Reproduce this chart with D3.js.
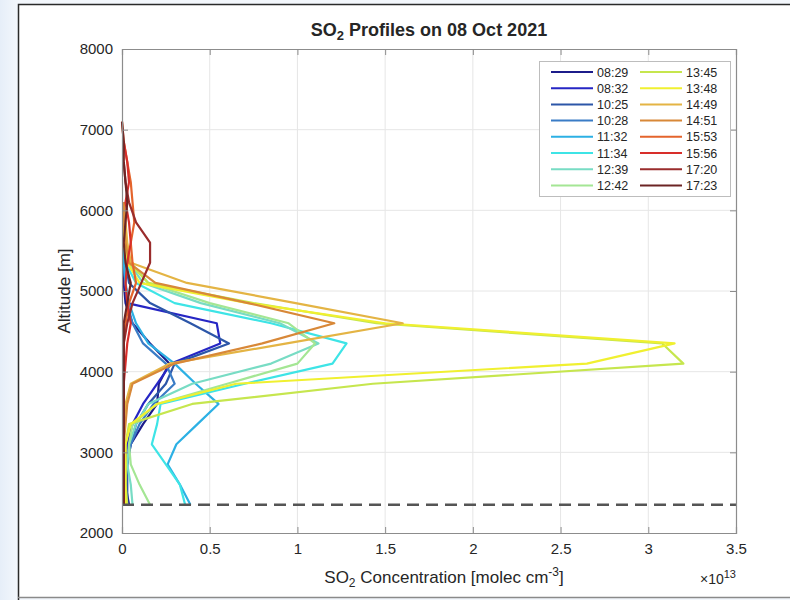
<!DOCTYPE html>
<html>
<head>
<meta charset="utf-8">
<script src="https://cdn.jsdelivr.net/npm/d3@7"></script>
<style>
  html, body { margin: 0; padding: 0; }
  body { width: 790px; height: 600px; overflow: hidden;
         background: linear-gradient(90deg, #e6eef8 0px, #f3f7fc 18px); }
  svg { display: block; }
  text { font-family: "Liberation Sans", Arial, Helvetica, sans-serif; fill: #262626; }
</style>
</head>
<body>
<svg id="chart" width="790" height="600"></svg>
<script>
// Altitude levels of the retrieved profiles [m]
const altitudes = [2350, 2600, 2850, 3100, 3350, 3600, 3850, 4100, 4350, 4600,
                   4850, 5100, 5350, 5600, 5850, 6100, 6350, 6600, 6850, 7100];

// Measurement times (legend entries)
const times = ["08:29", "08:32", "10:25", "10:28", "11:32", "11:34", "12:39", "12:42",
               "13:45", "13:48", "14:49", "14:51", "15:53", "15:56", "17:20", "17:23"];

const colors = ["#1c1c8a", "#2626c4", "#2c56a8", "#3a7cc6", "#2cb0e4", "#3ee4e6", "#78dcc4", "#a4e694",
                "#c6e64e", "#f0f030", "#e4b444", "#d88838", "#e4642c", "#d82e2a", "#9a2c2c", "#6c2424"];

// SO2 concentration per level, in units of 1e13 molec cm^-3 (null = no retrieval)
const so2_0829 = [0.04, 0.02, 0.02, 0.05, 0.12, 0.20, 0.21, 0.27, 0.16, 0.06, 0.02, 0.01, 0.01, 0.01, 0.01, 0.01, null, null, null, null];
const so2_0832 = [0.03, 0.02, 0.02, 0.03, 0.06, 0.12, 0.20, 0.28, 0.56, 0.54, 0.03, 0.02, 0.01, 0.01, 0.01, null, null, null, null, null];
const so2_1025 = [0.03, 0.03, 0.03, 0.05, 0.08, 0.15, 0.25, 0.30, 0.61, 0.39, 0.16, 0.04, 0.02, 0.01, 0.01, null, null, null, null, null];
const so2_1028 = [0.02, 0.02, 0.03, 0.05, 0.10, 0.18, 0.30, 0.25, 0.12, 0.06, 0.03, 0.02, 0.01, 0.01, null, null, null, null, null, null];
const so2_1132 = [0.39, 0.33, 0.26, 0.31, 0.43, 0.55, 0.42, 0.30, 0.15, 0.08, 0.04, 0.02, 0.01, 0.01, null, null, null, null, null, null];
const so2_1134 = [0.36, 0.33, 0.25, 0.17, 0.20, 0.22, 0.70, 1.20, 1.28, 0.85, 0.30, 0.08, 0.02, 0.01, null, null, null, null, null, null];
const so2_1239 = [0.06, 0.05, 0.03, 0.04, 0.08, 0.15, 0.40, 0.85, 1.12, 0.90, 0.45, 0.12, 0.04, 0.02, 0.01, null, null, null, null, null];
const so2_1242 = [0.16, 0.10, 0.05, 0.04, 0.06, 0.20, 0.60, 1.00, 1.10, 0.95, 0.50, 0.15, 0.05, 0.02, 0.01, null, null, null, null, null];
const so2_1345 = [0.03, 0.02, 0.02, 0.02, 0.04, 0.40, 1.43, 3.20, 3.08, 1.45, 0.75, 0.15, 0.04, 0.02, 0.01, null, null, null, null, null];
const so2_1348 = [0.02, 0.02, 0.02, 0.02, 0.05, 0.20, 0.65, 2.65, 3.15, 1.50, 0.72, 0.10, 0.03, 0.01, 0.01, null, null, null, null, null];
const so2_1449 = [0.01, 0.01, 0.01, 0.01, 0.01, 0.02, 0.05, 0.27, 0.94, 1.60, 0.99, 0.37, 0.05, 0.03, 0.02, 0.01, null, null, null, null];
const so2_1451 = [0.01, 0.01, 0.01, 0.01, 0.02, 0.03, 0.06, 0.30, 0.80, 1.21, 0.72, 0.19, 0.04, 0.02, 0.01, 0.01, null, null, null, null];
const so2_1553 = [0.01, 0.01, 0.01, 0.01, 0.01, 0.01, 0.01, 0.01, 0.01, 0.02, 0.04, 0.08, 0.06, 0.05, 0.07, 0.06, 0.05, 0.03, 0.01, 0.00];
const so2_1556 = [0.01, 0.01, 0.01, 0.01, 0.01, 0.01, 0.01, 0.02, 0.03, 0.05, 0.03, 0.02, 0.03, 0.05, 0.04, 0.02, 0.04, 0.03, 0.01, null];
const so2_1720 = [0.01, 0.01, 0.01, 0.01, 0.01, 0.01, 0.01, 0.01, 0.01, 0.03, 0.06, 0.11, 0.16, 0.16, 0.08, 0.04, 0.02, 0.01, null, null];
const so2_1723 = [0.01, 0.01, 0.01, 0.01, 0.01, 0.01, 0.01, 0.01, 0.01, 0.01, 0.03, 0.05, 0.02, 0.01, 0.02, 0.03, 0.02, 0.01, 0.01, 0.00];

const profiles = [so2_0829, so2_0832, so2_1025, so2_1028, so2_1132, so2_1134, so2_1239, so2_1242,
                  so2_1345, so2_1348, so2_1449, so2_1451, so2_1553, so2_1556, so2_1720, so2_1723];

// Axis ticks
const xTicks = [0, 0.5, 1, 1.5, 2, 2.5, 3, 3.5];
const yTicks = [2000, 3000, 4000, 5000, 6000, 7000, 8000];
const groundAltitude = 2350;

const svg = d3.select("#chart");

// Figure frame
svg.append("rect").attr("x", 18).attr("y", 4).attr("width", 790).attr("height", 593)
  .attr("fill", "#ffffff");
svg.append("path").attr("d", "M18.5,600 V4.5 H790").attr("fill", "none")
  .attr("stroke", "#2a2a2a").attr("stroke-width", 1.5);
svg.append("line").attr("x1", 18).attr("x2", 790).attr("y1", 597.5).attr("y2", 597.5)
  .attr("stroke", "#8a8a8a").attr("stroke-width", 1.5);

const plot = { left: 122, top: 49, right: 736, bottom: 533 };
const x = d3.scaleLinear().domain([0, 3.5]).range([plot.left, plot.right]);
const y = d3.scaleLinear().domain([2000, 8000]).range([plot.bottom, plot.top]);

// Grid
const grid = svg.append("g");
grid.selectAll(".gx").data(xTicks.slice(1, -1)).join("line")
  .attr("x1", d => x(d)).attr("x2", d => x(d)).attr("y1", plot.top).attr("y2", plot.bottom)
  .attr("stroke", "#e6e6e6").attr("stroke-width", 1);
grid.selectAll(".gy").data(yTicks.slice(1, -1)).join("line")
  .attr("x1", plot.left).attr("x2", plot.right).attr("y1", d => y(d)).attr("y2", d => y(d))
  .attr("stroke", "#e6e6e6").attr("stroke-width", 1);

// Profiles
const line = d3.line()
  .defined(d => d.v != null)
  .x(d => x(d.v))
  .y(d => y(d.alt));

const lines = svg.append("g").attr("fill", "none").attr("stroke-width", 2.2)
  .attr("stroke-linejoin", "round");
profiles.forEach((vals, i) => {
  lines.append("path")
    .datum(vals.map((v, k) => ({ v: v, alt: altitudes[k] })))
    .attr("stroke", colors[i])
    .attr("d", line);
});

// Ground level
svg.append("line")
  .attr("x1", x(0)).attr("x2", x(3.5)).attr("y1", y(groundAltitude)).attr("y2", y(groundAltitude))
  .attr("stroke", "#555555").attr("stroke-width", 2.5).attr("stroke-dasharray", "12,7");

// Axes (box with inward ticks)
const axisColor = "#8c8c8c";
const xAxisB = d3.axisBottom(x).tickValues(xTicks).tickSize(-6).tickPadding(10)
  .tickFormat(d3.format(""));
const xAxisT = d3.axisTop(x).tickValues(xTicks).tickSize(-6).tickFormat("");
const yAxisL = d3.axisLeft(y).tickValues(yTicks).tickSize(-6).tickPadding(9)
  .tickFormat(d3.format("d"));
const yAxisR = d3.axisRight(y).tickValues(yTicks).tickSize(-6).tickFormat("");

function styleAxis(g) {
  g.select(".domain").attr("stroke", axisColor).attr("stroke-width", 1.2);
  g.selectAll(".tick line").attr("stroke", axisColor).attr("stroke-width", 1);
  g.selectAll(".tick text").attr("font-size", 15).attr("fill", "#262626")
    .attr("font-family", "Liberation Sans, Arial, sans-serif");
}
svg.append("g").attr("transform", `translate(0,${plot.bottom})`).call(xAxisB).call(styleAxis);
svg.append("g").attr("transform", `translate(0,${plot.top})`).call(xAxisT).call(styleAxis);
svg.append("g").attr("transform", `translate(${plot.left},0)`).call(yAxisL).call(styleAxis);
svg.append("g").attr("transform", `translate(${plot.right},0)`).call(yAxisR).call(styleAxis);

// Title
const title = svg.append("text").attr("x", 429).attr("y", 36)
  .attr("text-anchor", "middle").attr("font-size", 18).attr("font-weight", "bold");
title.append("tspan").text("SO");
title.append("tspan").attr("baseline-shift", "-30%").attr("font-size", 13).text("2");
title.append("tspan").text(" Profiles on 08 Oct 2021");

// X label
const xl = svg.append("text").attr("x", 444).attr("y", 583)
  .attr("text-anchor", "middle").attr("font-size", 17);
xl.append("tspan").text("SO");
xl.append("tspan").attr("baseline-shift", "-30%").attr("font-size", 12).text("2");
xl.append("tspan").text(" Concentration [molec cm");
xl.append("tspan").attr("baseline-shift", "super").attr("font-size", 12).text("-3");
xl.append("tspan").text("]");

// Exponent note
const ex = svg.append("text").attr("x", plot.right).attr("y", 584)
  .attr("text-anchor", "end").attr("font-size", 14);
ex.append("tspan").text("\u00d710");
ex.append("tspan").attr("baseline-shift", "super").attr("font-size", 11).text("13");

// Y label
svg.append("text")
  .attr("transform", `translate(70,${(plot.top + plot.bottom) / 2}) rotate(-90)`)
  .attr("text-anchor", "middle").attr("font-size", 17).text("Altitude [m]");

// Legend
const lg = svg.append("g");
lg.append("rect").attr("x", 539.5).attr("y", 61.5).attr("width", 191).attr("height", 135)
  .attr("fill", "#ffffff").attr("stroke", "#bdbdbd").attr("stroke-width", 1);
times.forEach((t, i) => {
  const col = Math.floor(i / 8), row = i % 8;
  const lx = 551 + col * 89, ly = 72 + row * 16.2;
  lg.append("line").attr("x1", lx).attr("x2", lx + 42).attr("y1", ly).attr("y2", ly)
    .attr("stroke", colors[i]).attr("stroke-width", 2);
  lg.append("text").attr("x", lx + 46).attr("y", ly + 4.5).attr("font-size", 12.5).text(t);
});
</script>
</body>
</html>
